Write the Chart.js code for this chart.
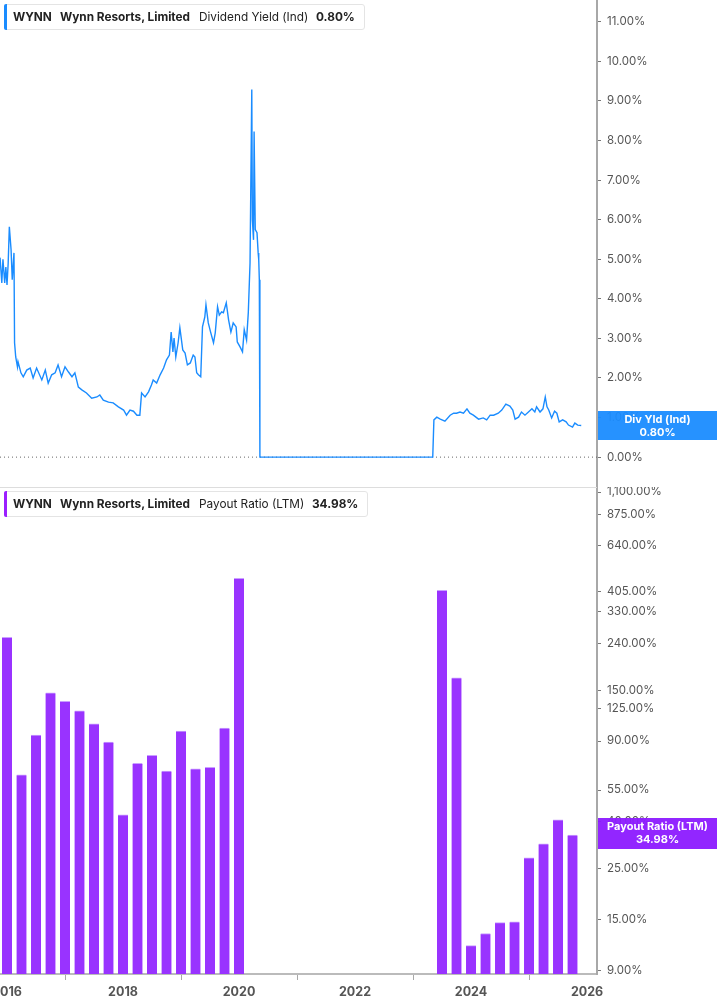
<!DOCTYPE html>
<html>
<head>
<meta charset="utf-8">
<script src="https://cdn.jsdelivr.net/npm/chart.js@4.4.1/dist/chart.umd.min.js"></script>
<style>
  html, body { margin: 0; padding: 0; background: #fff; }
  body { width: 717px; height: 1005px; position: relative; overflow: hidden; font-family: Inter, "Open Sans", sans-serif; }
  .pane { position: absolute; left: 0; width: 717px; }
  #topPane { top: 0; height: 488px; }
  #botPane { top: 487px; height: 518px; }
  .legend { position: absolute; left: 4px; height: 26px; width: 361px; background: #fff;
            border: 1px solid #e4e4e4; border-radius: 3px; box-sizing: border-box; font-size: 11.8px; color: #222; }
  .legend .bar { position: absolute; left: -1px; top: -1px; bottom: -1px; width: 3px; border-radius: 2px 0 0 2px; }
  .legend span { position: absolute; top: 5px; white-space: nowrap; }
  .legend b { font-weight: 700; }
  .sep { position: absolute; left: 0; top: 487px; width: 597px; height: 1px; background: #ddd; }
  .tag { position: absolute; left: 598px; width: 119px; color: #fff; font-size: 11px; font-weight: 700;
         text-align: center; line-height: 13px; padding-top: 2px; box-sizing: border-box; }
</style>
</head>
<body>
<div class="pane" id="topPane"><canvas id="yieldChart"></canvas></div>
<div class="pane" id="botPane"><canvas id="payoutChart"></canvas></div>
<div class="sep"></div>

<div class="legend" style="top:4px;">
  <div class="bar" style="background:#1a8cff;"></div>
  <span style="left:8px;"><b>WYNN</b></span>
  <span style="left:55px;"><b>Wynn Resorts, Limited</b></span>
  <span style="left:194px;">Dividend Yield (Ind)</span>
  <span style="left:311px;"><b>0.80%</b></span>
</div>
<div class="legend" style="top:491px; width:364px;">
  <div class="bar" style="background:#9b1fff;"></div>
  <span style="left:8px;"><b>WYNN</b></span>
  <span style="left:55px;"><b>Wynn Resorts, Limited</b></span>
  <span style="left:194px;">Payout Ratio (LTM)</span>
  <span style="left:307px;"><b>34.98%</b></span>
</div>

<div class="tag" style="top:411px; height:29px; background:rgba(26,140,255,0.95);">Div Yld (Ind)<br>0.80%</div>
<div class="tag" style="top:818px; height:31px; background:rgba(140,26,255,0.95);">Payout Ratio (LTM)<br>34.98%</div>

<script>
// Dividend yield (Ind), % -- dates as decimal years
const yieldDates = [
  2015.88, 2015.91, 2015.93, 2015.96, 2015.98, 2016.00, 2016.02, 2016.04, 2016.07, 2016.09,
  2016.12, 2016.13, 2016.15, 2016.18, 2016.19, 2016.24, 2016.28, 2016.34, 2016.40, 2016.45,
  2016.51, 2016.60, 2016.66, 2016.71, 2016.77, 2016.83, 2016.88, 2016.94, 2017.00, 2017.06,
  2017.12, 2017.17, 2017.23, 2017.29, 2017.37, 2017.46, 2017.55, 2017.60, 2017.66, 2017.75,
  2017.83, 2017.92, 2018.01, 2018.06, 2018.12, 2018.18, 2018.24, 2018.29, 2018.32, 2018.38,
  2018.44, 2018.49, 2018.52, 2018.58, 2018.64, 2018.70, 2018.75, 2018.80, 2018.83, 2018.86,
  2018.88, 2018.91, 2018.95, 2018.98, 2019.03, 2019.07, 2019.11, 2019.16, 2019.21, 2019.24,
  2019.27, 2019.30, 2019.34, 2019.37, 2019.41, 2019.43, 2019.47, 2019.51, 2019.56, 2019.59,
  2019.63, 2019.66, 2019.70, 2019.73, 2019.78, 2019.82, 2019.86, 2019.90, 2019.95, 2019.97,
  2020.02, 2020.06, 2020.09, 2020.13, 2020.16, 2020.19, 2020.22, 2020.23, 2020.25, 2020.26,
  2020.28, 2020.31, 2020.33, 2020.34, 2020.35, 2020.36, 2023.34, 2023.36, 2023.41, 2023.47,
  2023.55, 2023.64, 2023.70, 2023.75, 2023.81, 2023.87, 2023.93, 2023.98, 2024.04, 2024.13,
  2024.21, 2024.27, 2024.33, 2024.39, 2024.47, 2024.53, 2024.60, 2024.67, 2024.72, 2024.76,
  2024.82, 2024.87, 2024.93, 2024.99, 2025.05, 2025.10, 2025.13, 2025.19, 2025.24, 2025.28,
  2025.31, 2025.34, 2025.39, 2025.44, 2025.48, 2025.52, 2025.58, 2025.64, 2025.68, 2025.75,
  2025.79, 2025.84, 2025.90
];
const yieldValues = [
  5.04, 4.40, 5.00, 4.40, 4.80, 4.35, 4.90, 5.82, 5.24, 4.48,
  5.16, 2.89, 2.53, 2.28, 2.41, 2.13, 2.03, 2.20, 2.25, 2.00,
  2.25, 1.95, 2.20, 1.87, 2.08, 2.13, 2.33, 2.03, 2.28, 2.15,
  2.03, 2.13, 1.77, 1.70, 1.62, 1.49, 1.52, 1.57, 1.44, 1.39,
  1.37, 1.27, 1.19, 1.06, 1.19, 1.16, 1.06, 1.06, 1.62, 1.52,
  1.65, 1.82, 1.95, 1.87, 2.08, 2.25, 2.46, 2.58, 3.16, 2.66,
  3.01, 2.53, 2.89, 3.27, 2.71, 2.63, 2.33, 2.38, 2.58, 2.53,
  2.13, 2.08, 2.03, 3.29, 3.54, 3.85, 3.39, 3.16, 2.89, 3.14,
  3.80, 3.59, 3.67, 3.65, 3.90, 3.47, 3.16, 3.39, 3.29, 2.91,
  2.78, 2.66, 3.22, 2.96, 3.65, 4.91, 9.29, 6.00, 5.49, 8.23,
  5.75, 5.67, 5.16, 4.99, 4.48, 0.00, 0.00, 0.94, 1.01, 0.96,
  0.91, 1.06, 1.11, 1.11, 1.14, 1.11, 1.22, 1.11, 1.06, 0.96,
  0.99, 0.94, 1.06, 1.06, 1.11, 1.19, 1.34, 1.29, 1.19, 0.96,
  1.01, 1.14, 1.06, 1.14, 1.22, 1.14, 1.27, 1.14, 1.22, 1.52,
  1.27, 1.19, 0.99, 1.16, 1.11, 0.89, 0.94, 0.89, 0.81, 0.76,
  0.86, 0.81, 0.80
];
const yieldTicks = [0, 1, 2, 3, 4, 5, 6, 7, 8, 9, 10, 11];

// Payout ratio (LTM), % -- quarterly
const quarterDates = [
  2016.00, 2016.25, 2016.50, 2016.75, 2017.00, 2017.25, 2017.50, 2017.75,
  2018.00, 2018.25, 2018.50, 2018.75, 2019.00, 2019.25, 2019.50, 2019.75,
  2020.00, 2020.25, 2020.50, 2020.75, 2021.00, 2021.25, 2021.50, 2021.75,
  2022.00, 2022.25, 2022.50, 2022.75, 2023.00, 2023.25, 2023.50, 2023.75,
  2024.00, 2024.25, 2024.50, 2024.75, 2025.00, 2025.25, 2025.50, 2025.75
];
const payoutValues = [
  255, 64, 95.5, 146, 134, 122, 107, 89,
  42.8, 72, 78, 66.6, 99.5, 68, 69, 102.5,
  462, null, null, null, null, null, null, null,
  null, null, null, null, null, null, 409, 170,
  11.5, 13.0, 14.5, 14.6, 27.8, 32, 40.8, 34.98
];
const payoutTicks = [9, 15, 25, 40, 55, 90, 125, 150, 240, 330, 405, 640, 875, 1100];
const yearTicks = [2016, 2018, 2020, 2022, 2024, 2026];

const X_MIN = 2015.879, X_MAX = 2026.172;
const AXIS_GRAY = '#a8a8a8';
const LABEL_GRAY = '#555';

function pct(v) {
  return v.toLocaleString('en-US', { minimumFractionDigits: 2, maximumFractionDigits: 2 }) + '%';
}

function rightAxis(extra) {
  return Object.assign({
    position: 'right',
    grid: { drawOnChartArea: false, drawTicks: true, tickLength: 4, color: '#777', tickWidth: 1 },
    border: { display: true, color: AXIS_GRAY, width: 2 },
    ticks: { color: LABEL_GRAY, padding: 6, font: { family: 'Inter', size: 11.5 }, callback: v => pct(v) },
    afterFit: s => { s.width = 120; s.paddingTop = 0; s.paddingBottom = 0; }
  }, extra);
}

Chart.defaults.animation = false;
Chart.defaults.font.family = 'Inter';

new Chart(document.getElementById('yieldChart'), {
  type: 'line',
  data: {
    datasets: [
      {
        data: yieldDates.map((d, i) => ({ x: d, y: yieldValues[i] })),
        borderColor: '#1a8cff',
        borderWidth: 1.4,
        pointRadius: 0,
        tension: 0,
        order: 1
      },
      {
        data: [{ x: X_MIN, y: 0 }, { x: X_MAX, y: 0 }],
        borderColor: '#666',
        borderWidth: 1,
        borderDash: [1, 3],
        pointRadius: 0,
        order: 2
      }
    ]
  },
  options: {
    responsive: true,
    maintainAspectRatio: false,
    layout: { padding: 0 },
    plugins: { legend: { display: false }, tooltip: { enabled: false } },
    scales: {
      x: { type: 'linear', min: X_MIN, max: X_MAX, display: false },
      y: rightAxis({
        type: 'linear', min: -0.78, max: 11.55,
        afterBuildTicks: s => { s.ticks = yieldTicks.map(v => ({ value: v })); }
      })
    }
  }
});

new Chart(document.getElementById('payoutChart'), {
  type: 'bar',
  data: {
    datasets: [{
      data: quarterDates.map((d, i) => ({ x: d, y: payoutValues[i] })),
      backgroundColor: '#9933ff',
      borderColor: '#c9a0ff',
      borderWidth: { top: 1, left: 0, right: 0, bottom: 0 },
      borderSkipped: 'bottom',
      barThickness: 10
    }]
  },
  options: {
    responsive: true,
    maintainAspectRatio: false,
    layout: { padding: 0 },
    plugins: { legend: { display: false }, tooltip: { enabled: false } },
    scales: {
      x: {
        type: 'linear', min: X_MIN, max: X_MAX, offset: false,
        grid: { drawOnChartArea: false, drawTicks: true, tickLength: 6, color: AXIS_GRAY },
        border: { display: true, color: '#bbb', width: 2 },
        ticks: { color: LABEL_GRAY, padding: 5, maxRotation: 0, font: { family: 'Inter', size: 12.5, weight: 'bold' }, callback: v => String(v) },
        afterBuildTicks: s => { s.ticks = yearTicks.map(v => ({ value: v })); },
        afterFit: s => { s.height = 31; s.paddingLeft = 0; s.paddingRight = 0; }
      },
      y: rightAxis({
        type: 'logarithmic', min: 8.65, max: 1157,
        afterBuildTicks: s => { s.ticks = payoutTicks.map(v => ({ value: v })); }
      })
    }
  }
});
</script>
</body>
</html>
